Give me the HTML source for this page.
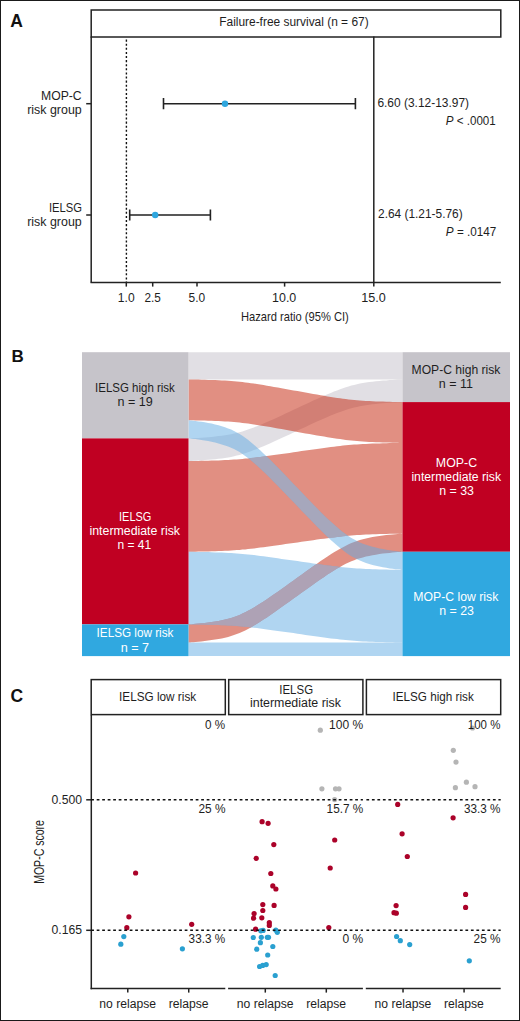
<!DOCTYPE html>
<html><head><meta charset="utf-8"><style>
html,body{margin:0;padding:0;background:#fff;}
svg{display:block;}
text{font-family:"Liberation Sans", sans-serif;}
</style></head><body>
<svg width="520" height="1021" viewBox="0 0 520 1021">
<rect width="520" height="1021" fill="#fff"/>
<text x="10.2" y="26.7" font-size="17.5" font-weight="bold" fill="#111">A</text>
<rect x="91.2" y="10.0" width="409.6" height="27.0" fill="none" stroke="#222" stroke-width="1.5"/>
<line x1="91.2" y1="36.5" x2="91.2" y2="282.6" stroke="#222" stroke-width="1.5"/>
<line x1="90.5" y1="282.6" x2="500.8" y2="282.6" stroke="#222" stroke-width="1.5"/>
<line x1="373.8" y1="36.5" x2="373.8" y2="282.6" stroke="#222" stroke-width="1.5"/>
<line x1="126.4" y1="39.6" x2="126.4" y2="282" stroke="#111" stroke-width="1.4" stroke-dasharray="2.05 2.05"/>
<line x1="126.3" y1="282.6" x2="126.3" y2="286.6" stroke="#222" stroke-width="1.5"/>
<line x1="152.7" y1="282.6" x2="152.7" y2="286.6" stroke="#222" stroke-width="1.5"/>
<line x1="197" y1="282.6" x2="197" y2="286.6" stroke="#222" stroke-width="1.5"/>
<line x1="284.6" y1="282.6" x2="284.6" y2="286.6" stroke="#222" stroke-width="1.5"/>
<line x1="373.8" y1="282.6" x2="373.8" y2="286.6" stroke="#222" stroke-width="1.5"/>
<line x1="86.2" y1="103.7" x2="91.2" y2="103.7" stroke="#222" stroke-width="1.5"/>
<line x1="86.2" y1="215.0" x2="91.2" y2="215.0" stroke="#222" stroke-width="1.5"/>
<path d="M163.5,103.7 H355.4 M163.5,98.10000000000001 V109.3 M355.4,98.10000000000001 V109.3" stroke="#222" stroke-width="1.6" fill="none"/>
<circle cx="225.0" cy="103.7" r="3.2" fill="#2ea6de"/>
<path d="M129.7,215.0 H210.4 M129.7,209.4 V220.6 M210.4,209.4 V220.6" stroke="#222" stroke-width="1.6" fill="none"/>
<circle cx="155.2" cy="215.0" r="3.2" fill="#2ea6de"/>
<text x="11.6" y="362.3" font-size="17" font-weight="bold" fill="#111">B</text>
<path d="M188.5,352.2 188.5,352.2 188.7,352.2 189.2,352.2 190.1,352.2 191.4,352.2 193.3,352.2 195.6,352.2 198.3,352.2 201.4,352.2 204.7,352.2 208.1,352.2 211.6,352.2 215.1,352.2 218.5,352.2 221.8,352.2 225.0,352.2 228.1,352.2 231.1,352.2 234.0,352.2 236.8,352.2 239.6,352.2 242.4,352.2 245.2,352.2 248.0,352.2 250.9,352.2 253.9,352.2 257.0,352.2 260.2,352.2 263.5,352.2 266.9,352.2 270.4,352.2 274.0,352.2 277.8,352.2 281.6,352.2 285.5,352.2 289.5,352.2 293.5,352.2 297.5,352.2 301.5,352.2 305.5,352.2 309.4,352.2 313.2,352.2 317.0,352.2 320.6,352.2 324.1,352.2 327.5,352.2 330.8,352.2 334.0,352.2 337.1,352.2 340.1,352.2 343.0,352.2 345.8,352.2 348.6,352.2 351.4,352.2 354.2,352.2 357.0,352.2 359.9,352.2 362.9,352.2 366.0,352.2 369.2,352.2 372.5,352.2 375.9,352.2 379.4,352.2 382.9,352.2 386.3,352.2 389.6,352.2 392.7,352.2 395.4,352.2 397.7,352.2 399.6,352.2 400.9,352.2 401.8,352.2 402.3,352.2 402.5,352.2 402.5,352.2 402.5,352.2 402.5,352.3 402.5,352.5 402.5,352.9 402.5,353.6 402.5,354.5 402.5,355.6 402.5,357.0 402.5,358.7 402.5,360.5 402.5,362.6 402.5,364.7 402.5,366.9 402.5,369.0 402.5,371.1 402.5,372.9 402.5,374.6 402.5,376.0 402.5,377.2 402.5,378.0 402.5,378.7 402.5,379.1 402.5,379.3 402.5,379.4 402.5,379.4 402.5,379.4 402.3,379.4 401.8,379.4 400.9,379.4 399.6,379.4 397.7,379.4 395.4,379.4 392.7,379.4 389.6,379.4 386.3,379.4 382.9,379.4 379.4,379.4 375.9,379.4 372.5,379.4 369.2,379.4 366.0,379.4 362.9,379.4 359.9,379.4 357.0,379.4 354.2,379.4 351.4,379.4 348.6,379.4 345.8,379.4 343.0,379.4 340.1,379.4 337.1,379.4 334.0,379.4 330.8,379.4 327.5,379.4 324.1,379.4 320.6,379.4 317.0,379.4 313.2,379.4 309.4,379.4 305.5,379.4 301.5,379.4 297.5,379.4 293.5,379.4 289.5,379.4 285.5,379.4 281.6,379.4 277.8,379.4 274.0,379.4 270.4,379.4 266.9,379.4 263.5,379.4 260.2,379.4 257.0,379.4 253.9,379.4 250.9,379.4 248.0,379.4 245.2,379.4 242.4,379.4 239.6,379.4 236.8,379.4 234.0,379.4 231.1,379.4 228.1,379.4 225.0,379.4 221.8,379.4 218.5,379.4 215.1,379.4 211.6,379.4 208.1,379.4 204.7,379.4 201.4,379.4 198.3,379.4 195.6,379.4 193.3,379.4 191.4,379.4 190.1,379.4 189.2,379.4 188.7,379.4 188.5,379.4 188.5,379.4 188.5,379.4 188.5,379.3 188.5,379.1 188.5,378.7 188.5,378.0 188.5,377.2 188.5,376.0 188.5,374.6 188.5,372.9 188.5,371.1 188.5,369.0 188.5,366.9 188.5,364.7 188.5,362.6 188.5,360.5 188.5,358.7 188.5,357.0 188.5,355.6 188.5,354.5 188.5,353.6 188.5,352.9 188.5,352.5 188.5,352.3 188.5,352.2Z" fill="rgb(195,191,201)" fill-opacity="0.5"/>
<path d="M188.5,438.4 188.5,438.4 188.7,438.4 189.2,438.4 190.1,438.3 191.4,438.3 193.3,438.2 195.6,438.0 198.3,437.9 201.4,437.7 204.7,437.4 208.1,437.2 211.6,436.9 215.1,436.5 218.5,436.1 221.8,435.7 225.0,435.2 228.1,434.7 231.1,434.2 234.0,433.6 236.8,432.9 239.6,432.2 242.4,431.4 245.2,430.5 248.0,429.6 250.9,428.6 253.9,427.4 257.0,426.2 260.2,424.9 263.5,423.5 266.9,422.1 270.4,420.5 274.0,418.9 277.8,417.2 281.6,415.4 285.5,413.6 289.5,411.7 293.5,409.8 297.5,408.0 301.5,406.1 305.5,404.2 309.4,402.4 313.2,400.6 317.0,398.9 320.6,397.3 324.1,395.7 327.5,394.3 330.8,392.9 334.0,391.6 337.1,390.4 340.1,389.2 343.0,388.2 345.8,387.3 348.6,386.4 351.4,385.6 354.2,384.9 357.0,384.2 359.9,383.6 362.9,383.1 366.0,382.6 369.2,382.1 372.5,381.7 375.9,381.3 379.4,380.9 382.9,380.6 386.3,380.4 389.6,380.1 392.7,379.9 395.4,379.8 397.7,379.6 399.6,379.5 400.9,379.5 401.8,379.4 402.3,379.4 402.5,379.4 402.5,379.4 402.5,379.4 402.5,379.5 402.5,379.7 402.5,380.0 402.5,380.6 402.5,381.3 402.5,382.3 402.5,383.4 402.5,384.8 402.5,386.4 402.5,388.1 402.5,389.8 402.5,391.7 402.5,393.4 402.5,395.1 402.5,396.7 402.5,398.1 402.5,399.3 402.5,400.2 402.5,401.0 402.5,401.5 402.5,401.8 402.5,402.0 402.5,402.1 402.5,402.1 402.5,402.1 402.3,402.1 401.8,402.1 400.9,402.2 399.6,402.2 397.7,402.3 395.4,402.4 392.7,402.6 389.6,402.8 386.3,403.0 382.9,403.3 379.4,403.6 375.9,404.0 372.5,404.3 369.2,404.8 366.0,405.2 362.9,405.7 359.9,406.3 357.0,406.9 354.2,407.5 351.4,408.3 348.6,409.1 345.8,409.9 343.0,410.9 340.1,411.9 337.1,413.0 334.0,414.3 330.8,415.6 327.5,416.9 324.1,418.4 320.6,420.0 317.0,421.6 313.2,423.3 309.4,425.1 305.5,426.9 301.5,428.8 297.5,430.6 293.5,432.5 289.5,434.4 285.5,436.2 281.6,438.1 277.8,439.8 274.0,441.5 270.4,443.2 266.9,444.7 263.5,446.2 260.2,447.6 257.0,448.9 253.9,450.1 250.9,451.2 248.0,452.3 245.2,453.2 242.4,454.1 239.6,454.9 236.8,455.6 234.0,456.3 231.1,456.9 228.1,457.4 225.0,457.9 221.8,458.4 218.5,458.8 215.1,459.2 211.6,459.5 208.1,459.8 204.7,460.1 201.4,460.4 198.3,460.6 195.6,460.7 193.3,460.8 191.4,460.9 190.1,461.0 189.2,461.0 188.7,461.1 188.5,461.1 188.5,461.1 188.5,461.0 188.5,461.0 188.5,460.8 188.5,460.4 188.5,459.9 188.5,459.2 188.5,458.2 188.5,457.0 188.5,455.7 188.5,454.1 188.5,452.4 188.5,450.6 188.5,448.8 188.5,447.0 188.5,445.3 188.5,443.8 188.5,442.4 188.5,441.2 188.5,440.3 188.5,439.5 188.5,439.0 188.5,438.7 188.5,438.5 188.5,438.4Z" fill="rgb(195,191,201)" fill-opacity="0.5"/>
<path d="M188.5,379.4 188.5,379.4 188.7,379.4 189.2,379.4 190.1,379.4 191.4,379.5 193.3,379.5 195.6,379.5 198.3,379.6 201.4,379.7 204.7,379.8 208.1,379.9 211.6,380.0 215.1,380.1 218.5,380.3 221.8,380.4 225.0,380.6 228.1,380.8 231.1,381.0 234.0,381.3 236.8,381.5 239.6,381.8 242.4,382.1 245.2,382.4 248.0,382.8 250.9,383.2 253.9,383.6 257.0,384.1 260.2,384.6 263.5,385.1 266.9,385.7 270.4,386.3 274.0,386.9 277.8,387.6 281.6,388.3 285.5,389.0 289.5,389.7 293.5,390.4 297.5,391.1 301.5,391.8 305.5,392.6 309.4,393.3 313.2,393.9 317.0,394.6 320.6,395.2 324.1,395.8 327.5,396.4 330.8,396.9 334.0,397.4 337.1,397.9 340.1,398.3 343.0,398.7 345.8,399.1 348.6,399.4 351.4,399.7 354.2,400.0 357.0,400.3 359.9,400.5 362.9,400.7 366.0,400.9 369.2,401.1 372.5,401.2 375.9,401.4 379.4,401.5 382.9,401.6 386.3,401.7 389.6,401.8 392.7,401.9 395.4,402.0 397.7,402.0 399.6,402.0 400.9,402.1 401.8,402.1 402.3,402.1 402.5,402.1 402.5,402.1 402.5,402.1 402.5,402.2 402.5,402.6 402.5,403.2 402.5,404.1 402.5,405.5 402.5,407.2 402.5,409.3 402.5,411.8 402.5,414.6 402.5,417.7 402.5,420.9 402.5,424.1 402.5,427.3 402.5,430.4 402.5,433.2 402.5,435.7 402.5,437.8 402.5,439.5 402.5,440.9 402.5,441.8 402.5,442.4 402.5,442.8 402.5,442.9 402.5,442.9 402.5,442.9 402.3,442.9 401.8,442.9 400.9,442.9 399.6,442.9 397.7,442.8 395.4,442.8 392.7,442.7 389.6,442.6 386.3,442.6 382.9,442.5 379.4,442.3 375.9,442.2 372.5,442.0 369.2,441.9 366.0,441.7 362.9,441.5 359.9,441.3 357.0,441.1 354.2,440.8 351.4,440.5 348.6,440.2 345.8,439.9 343.0,439.5 340.1,439.1 337.1,438.7 334.0,438.2 330.8,437.7 327.5,437.2 324.1,436.6 320.6,436.0 317.0,435.4 313.2,434.8 309.4,434.1 305.5,433.4 301.5,432.7 297.5,431.9 293.5,431.2 289.5,430.5 285.5,429.8 281.6,429.1 277.8,428.4 274.0,427.7 270.4,427.1 266.9,426.5 263.5,425.9 260.2,425.4 257.0,424.9 253.9,424.4 250.9,424.0 248.0,423.6 245.2,423.3 242.4,422.9 239.6,422.6 236.8,422.3 234.0,422.1 231.1,421.8 228.1,421.6 225.0,421.4 221.8,421.3 218.5,421.1 215.1,421.0 211.6,420.8 208.1,420.7 204.7,420.6 201.4,420.5 198.3,420.4 195.6,420.4 193.3,420.3 191.4,420.3 190.1,420.3 189.2,420.2 188.7,420.2 188.5,420.2 188.5,420.2 188.5,420.2 188.5,420.1 188.5,419.8 188.5,419.1 188.5,418.2 188.5,416.9 188.5,415.1 188.5,413.0 188.5,410.5 188.5,407.7 188.5,404.7 188.5,401.5 188.5,398.2 188.5,395.0 188.5,391.9 188.5,389.1 188.5,386.6 188.5,384.5 188.5,382.8 188.5,381.5 188.5,380.5 188.5,379.9 188.5,379.6 188.5,379.4Z" fill="rgb(195,31,5)" fill-opacity="0.5"/>
<path d="M188.5,461.1 188.5,461.1 188.7,461.1 189.2,461.1 190.1,461.0 191.4,461.0 193.3,461.0 195.6,461.0 198.3,460.9 201.4,460.8 204.7,460.8 208.1,460.7 211.6,460.6 215.1,460.5 218.5,460.4 221.8,460.2 225.0,460.1 228.1,459.9 231.1,459.8 234.0,459.6 236.8,459.4 239.6,459.2 242.4,458.9 245.2,458.6 248.0,458.4 250.9,458.0 253.9,457.7 257.0,457.3 260.2,456.9 263.5,456.5 266.9,456.0 270.4,455.6 274.0,455.1 277.8,454.5 281.6,454.0 285.5,453.4 289.5,452.9 293.5,452.3 297.5,451.7 301.5,451.1 305.5,450.6 309.4,450.0 313.2,449.4 317.0,448.9 320.6,448.4 324.1,447.9 327.5,447.5 330.8,447.1 334.0,446.7 337.1,446.3 340.1,445.9 343.0,445.6 345.8,445.3 348.6,445.1 351.4,444.8 354.2,444.6 357.0,444.4 359.9,444.2 362.9,444.0 366.0,443.9 369.2,443.7 372.5,443.6 375.9,443.5 379.4,443.4 382.9,443.3 386.3,443.2 389.6,443.1 392.7,443.1 395.4,443.0 397.7,443.0 399.6,443.0 400.9,442.9 401.8,442.9 402.3,442.9 402.5,442.9 402.5,442.9 402.5,443.0 402.5,443.3 402.5,444.0 402.5,445.4 402.5,447.5 402.5,450.4 402.5,454.3 402.5,459.0 402.5,464.5 402.5,470.7 402.5,477.5 402.5,484.7 402.5,491.9 402.5,499.0 402.5,505.8 402.5,512.0 402.5,517.6 402.5,522.3 402.5,526.1 402.5,529.1 402.5,531.2 402.5,532.6 402.5,533.3 402.5,533.6 402.5,533.6 402.5,533.6 402.3,533.6 401.8,533.6 400.9,533.7 399.6,533.7 397.7,533.7 395.4,533.7 392.7,533.8 389.6,533.8 386.3,533.9 382.9,534.0 379.4,534.1 375.9,534.2 372.5,534.3 369.2,534.5 366.0,534.6 362.9,534.8 359.9,534.9 357.0,535.1 354.2,535.3 351.4,535.5 348.6,535.8 345.8,536.0 343.0,536.3 340.1,536.7 337.1,537.0 334.0,537.4 330.8,537.8 327.5,538.2 324.1,538.7 320.6,539.1 317.0,539.6 313.2,540.2 309.4,540.7 305.5,541.3 301.5,541.8 297.5,542.4 293.5,543.0 289.5,543.6 285.5,544.1 281.6,544.7 277.8,545.2 274.0,545.8 270.4,546.3 266.9,546.8 263.5,547.2 260.2,547.6 257.0,548.0 253.9,548.4 250.9,548.8 248.0,549.1 245.2,549.4 242.4,549.6 239.6,549.9 236.8,550.1 234.0,550.3 231.1,550.5 228.1,550.7 225.0,550.8 221.8,551.0 218.5,551.1 215.1,551.2 211.6,551.3 208.1,551.4 204.7,551.5 201.4,551.6 198.3,551.6 195.6,551.7 193.3,551.7 191.4,551.7 190.1,551.8 189.2,551.8 188.7,551.8 188.5,551.8 188.5,551.8 188.5,551.7 188.5,551.4 188.5,550.7 188.5,549.3 188.5,547.2 188.5,544.3 188.5,540.4 188.5,535.7 188.5,530.2 188.5,524.0 188.5,517.2 188.5,510.0 188.5,502.8 188.5,495.7 188.5,488.9 188.5,482.6 188.5,477.1 188.5,472.4 188.5,468.6 188.5,465.6 188.5,463.5 188.5,462.1 188.5,461.4 188.5,461.1Z" fill="rgb(195,31,5)" fill-opacity="0.5"/>
<path d="M188.5,624.3 188.5,624.3 188.7,624.3 189.2,624.3 190.1,624.3 191.4,624.2 193.3,624.0 195.6,623.8 198.3,623.6 201.4,623.3 204.7,622.9 208.1,622.5 211.6,622.0 215.1,621.5 218.5,620.9 221.8,620.2 225.0,619.5 228.1,618.7 231.1,617.9 234.0,617.0 236.8,616.0 239.6,614.9 242.4,613.6 245.2,612.3 248.0,610.8 250.9,609.2 253.9,607.5 257.0,605.6 260.2,603.6 263.5,601.5 266.9,599.2 270.4,596.8 274.0,594.3 277.8,591.7 281.6,589.0 285.5,586.2 289.5,583.3 293.5,580.4 297.5,577.5 301.5,574.7 305.5,571.8 309.4,569.0 313.2,566.3 317.0,563.7 320.6,561.1 324.1,558.7 327.5,556.5 330.8,554.3 334.0,552.3 337.1,550.5 340.1,548.8 343.0,547.2 345.8,545.7 348.6,544.3 351.4,543.1 354.2,542.0 357.0,541.0 359.9,540.1 362.9,539.2 366.0,538.5 369.2,537.8 372.5,537.1 375.9,536.5 379.4,536.0 382.9,535.5 386.3,535.1 389.6,534.7 392.7,534.4 395.4,534.2 397.7,534.0 399.6,533.8 400.9,533.7 401.8,533.7 402.3,533.6 402.5,533.6 402.5,533.6 402.5,533.6 402.5,533.7 402.5,533.8 402.5,534.1 402.5,534.5 402.5,535.1 402.5,535.9 402.5,536.8 402.5,537.9 402.5,539.2 402.5,540.6 402.5,542.0 402.5,543.4 402.5,544.9 402.5,546.2 402.5,547.5 402.5,548.6 402.5,549.5 402.5,550.3 402.5,550.9 402.5,551.3 402.5,551.6 402.5,551.7 402.5,551.8 402.5,551.8 402.5,551.8 402.3,551.8 401.8,551.8 400.9,551.9 399.6,552.0 397.7,552.1 395.4,552.3 392.7,552.5 389.6,552.9 386.3,553.2 382.9,553.6 379.4,554.1 375.9,554.7 372.5,555.2 369.2,555.9 366.0,556.6 362.9,557.4 359.9,558.2 357.0,559.1 354.2,560.2 351.4,561.3 348.6,562.5 345.8,563.8 343.0,565.3 340.1,566.9 337.1,568.6 334.0,570.5 330.8,572.5 327.5,574.6 324.1,576.9 320.6,579.3 317.0,581.8 313.2,584.4 309.4,587.2 305.5,589.9 301.5,592.8 297.5,595.7 293.5,598.6 289.5,601.5 285.5,604.3 281.6,607.1 277.8,609.8 274.0,612.5 270.4,615.0 266.9,617.4 263.5,619.6 260.2,621.8 257.0,623.8 253.9,625.6 250.9,627.4 248.0,629.0 245.2,630.4 242.4,631.8 239.6,633.0 236.8,634.1 234.0,635.1 231.1,636.0 228.1,636.9 225.0,637.7 221.8,638.4 218.5,639.0 215.1,639.6 211.6,640.1 208.1,640.6 204.7,641.1 201.4,641.4 198.3,641.7 195.6,642.0 193.3,642.2 191.4,642.3 190.1,642.4 189.2,642.5 188.7,642.5 188.5,642.5 188.5,642.5 188.5,642.5 188.5,642.4 188.5,642.3 188.5,642.0 188.5,641.6 188.5,641.0 188.5,640.2 188.5,639.3 188.5,638.2 188.5,636.9 188.5,635.6 188.5,634.1 188.5,632.7 188.5,631.3 188.5,629.9 188.5,628.7 188.5,627.6 188.5,626.6 188.5,625.9 188.5,625.3 188.5,624.8 188.5,624.6 188.5,624.4 188.5,624.4Z" fill="rgb(195,31,5)" fill-opacity="0.5"/>
<path d="M188.5,420.2 188.5,420.2 188.7,420.3 189.2,420.3 190.1,420.4 191.4,420.5 193.3,420.7 195.6,421.0 198.3,421.4 201.4,421.8 204.7,422.3 208.1,422.9 211.6,423.6 215.1,424.4 218.5,425.3 221.8,426.2 225.0,427.2 228.1,428.4 231.1,429.6 234.0,430.9 236.8,432.4 239.6,434.0 242.4,435.8 245.2,437.7 248.0,439.8 250.9,442.2 253.9,444.7 257.0,447.4 260.2,450.3 263.5,453.4 266.9,456.7 270.4,460.1 274.0,463.8 277.8,467.6 281.6,471.5 285.5,475.6 289.5,479.7 293.5,483.9 297.5,488.1 301.5,492.3 305.5,496.4 309.4,500.5 313.2,504.4 317.0,508.2 320.6,511.9 324.1,515.4 327.5,518.7 330.8,521.7 334.0,524.6 337.1,527.3 340.1,529.9 343.0,532.2 345.8,534.3 348.6,536.2 351.4,538.0 354.2,539.6 357.0,541.1 359.9,542.4 362.9,543.7 366.0,544.8 369.2,545.8 372.5,546.7 375.9,547.6 379.4,548.4 382.9,549.1 386.3,549.7 389.6,550.2 392.7,550.7 395.4,551.0 397.7,551.3 399.6,551.5 400.9,551.6 401.8,551.7 402.3,551.8 402.5,551.8 402.5,551.8 402.5,551.8 402.5,551.8 402.5,552.0 402.5,552.3 402.5,552.7 402.5,553.3 402.5,554.0 402.5,555.0 402.5,556.1 402.5,557.3 402.5,558.7 402.5,560.1 402.5,561.6 402.5,563.0 402.5,564.4 402.5,565.6 402.5,566.7 402.5,567.7 402.5,568.4 402.5,569.0 402.5,569.4 402.5,569.7 402.5,569.9 402.5,569.9 402.5,569.9 402.5,569.9 402.3,569.9 401.8,569.9 400.9,569.8 399.6,569.6 397.7,569.4 395.4,569.2 392.7,568.8 389.6,568.4 386.3,567.8 382.9,567.2 379.4,566.5 375.9,565.7 372.5,564.9 369.2,563.9 366.0,562.9 362.9,561.8 359.9,560.6 357.0,559.2 354.2,557.8 351.4,556.2 348.6,554.4 345.8,552.4 343.0,550.3 340.1,548.0 337.1,545.5 334.0,542.8 330.8,539.9 327.5,536.8 324.1,533.5 320.6,530.0 317.0,526.4 313.2,522.6 309.4,518.6 305.5,514.6 301.5,510.4 297.5,506.3 293.5,502.0 289.5,497.9 285.5,493.7 281.6,489.7 277.8,485.7 274.0,481.9 270.4,478.3 266.9,474.8 263.5,471.5 260.2,468.4 257.0,465.5 253.9,462.8 250.9,460.3 248.0,458.0 245.2,455.9 242.4,453.9 239.6,452.1 236.8,450.5 234.0,449.1 231.1,447.7 228.1,446.5 225.0,445.4 221.8,444.4 218.5,443.4 215.1,442.6 211.6,441.8 208.1,441.1 204.7,440.5 201.4,439.9 198.3,439.5 195.6,439.1 193.3,438.9 191.4,438.7 190.1,438.5 189.2,438.4 188.7,438.4 188.5,438.4 188.5,438.4 188.5,438.4 188.5,438.3 188.5,438.2 188.5,437.9 188.5,437.5 188.5,436.9 188.5,436.1 188.5,435.2 188.5,434.1 188.5,432.8 188.5,431.5 188.5,430.0 188.5,428.6 188.5,427.2 188.5,425.8 188.5,424.6 188.5,423.4 188.5,422.5 188.5,421.7 188.5,421.1 188.5,420.7 188.5,420.5 188.5,420.3 188.5,420.2Z" fill="rgb(97,171,227)" fill-opacity="0.5"/>
<path d="M188.5,551.8 188.5,551.8 188.7,551.8 189.2,551.8 190.1,551.8 191.4,551.8 193.3,551.8 195.6,551.9 198.3,551.9 201.4,552.0 204.7,552.1 208.1,552.1 211.6,552.2 215.1,552.4 218.5,552.5 221.8,552.6 225.0,552.7 228.1,552.9 231.1,553.1 234.0,553.3 236.8,553.5 239.6,553.7 242.4,553.9 245.2,554.2 248.0,554.5 250.9,554.8 253.9,555.1 257.0,555.5 260.2,555.9 263.5,556.3 266.9,556.8 270.4,557.3 274.0,557.8 277.8,558.3 281.6,558.9 285.5,559.4 289.5,560.0 293.5,560.6 297.5,561.1 301.5,561.7 305.5,562.3 309.4,562.8 313.2,563.4 317.0,563.9 320.6,564.4 324.1,564.9 327.5,565.4 330.8,565.8 334.0,566.2 337.1,566.5 340.1,566.9 343.0,567.2 345.8,567.5 348.6,567.8 351.4,568.0 354.2,568.2 357.0,568.4 359.9,568.6 362.9,568.8 366.0,569.0 369.2,569.1 372.5,569.2 375.9,569.3 379.4,569.5 382.9,569.5 386.3,569.6 389.6,569.7 392.7,569.8 395.4,569.8 397.7,569.9 399.6,569.9 400.9,569.9 401.8,569.9 402.3,569.9 402.5,569.9 402.5,569.9 402.5,570.0 402.5,570.2 402.5,570.8 402.5,571.9 402.5,573.6 402.5,575.9 402.5,579.0 402.5,582.8 402.5,587.2 402.5,592.2 402.5,597.6 402.5,603.3 402.5,609.1 402.5,614.8 402.5,620.2 402.5,625.2 402.5,629.6 402.5,633.4 402.5,636.5 402.5,638.8 402.5,640.5 402.5,641.6 402.5,642.2 402.5,642.5 402.5,642.5 402.5,642.5 402.3,642.5 401.8,642.5 400.9,642.5 399.6,642.5 397.7,642.4 395.4,642.4 392.7,642.3 389.6,642.3 386.3,642.2 382.9,642.1 379.4,642.0 375.9,641.9 372.5,641.8 369.2,641.7 366.0,641.5 362.9,641.4 359.9,641.2 357.0,641.0 354.2,640.8 351.4,640.6 348.6,640.3 345.8,640.1 343.0,639.8 340.1,639.5 337.1,639.1 334.0,638.8 330.8,638.4 327.5,637.9 324.1,637.5 320.6,637.0 317.0,636.5 313.2,636.0 309.4,635.4 305.5,634.9 301.5,634.3 297.5,633.7 293.5,633.1 289.5,632.6 285.5,632.0 281.6,631.4 277.8,630.9 274.0,630.4 270.4,629.9 266.9,629.4 263.5,628.9 260.2,628.5 257.0,628.1 253.9,627.7 250.9,627.4 248.0,627.1 245.2,626.8 242.4,626.5 239.6,626.2 236.8,626.0 234.0,625.8 231.1,625.6 228.1,625.5 225.0,625.3 221.8,625.2 218.5,625.0 215.1,624.9 211.6,624.8 208.1,624.7 204.7,624.6 201.4,624.6 198.3,624.5 195.6,624.5 193.3,624.4 191.4,624.4 190.1,624.4 189.2,624.4 188.7,624.4 188.5,624.3 188.5,624.3 188.5,624.3 188.5,624.1 188.5,623.5 188.5,622.4 188.5,620.7 188.5,618.3 188.5,615.3 188.5,611.5 188.5,607.1 188.5,602.1 188.5,596.7 188.5,591.0 188.5,585.2 188.5,579.5 188.5,574.0 188.5,569.0 188.5,564.6 188.5,560.9 188.5,557.8 188.5,555.4 188.5,553.7 188.5,552.6 188.5,552.0 188.5,551.8Z" fill="rgb(97,171,227)" fill-opacity="0.5"/>
<path d="M188.5,642.5 188.5,642.5 188.7,642.5 189.2,642.5 190.1,642.5 191.4,642.5 193.3,642.5 195.6,642.5 198.3,642.5 201.4,642.5 204.7,642.5 208.1,642.5 211.6,642.5 215.1,642.5 218.5,642.5 221.8,642.5 225.0,642.5 228.1,642.5 231.1,642.5 234.0,642.5 236.8,642.5 239.6,642.5 242.4,642.5 245.2,642.5 248.0,642.5 250.9,642.5 253.9,642.5 257.0,642.5 260.2,642.5 263.5,642.5 266.9,642.5 270.4,642.5 274.0,642.5 277.8,642.5 281.6,642.5 285.5,642.5 289.5,642.5 293.5,642.5 297.5,642.5 301.5,642.5 305.5,642.5 309.4,642.5 313.2,642.5 317.0,642.5 320.6,642.5 324.1,642.5 327.5,642.5 330.8,642.5 334.0,642.5 337.1,642.5 340.1,642.5 343.0,642.5 345.8,642.5 348.6,642.5 351.4,642.5 354.2,642.5 357.0,642.5 359.9,642.5 362.9,642.5 366.0,642.5 369.2,642.5 372.5,642.5 375.9,642.5 379.4,642.5 382.9,642.5 386.3,642.5 389.6,642.5 392.7,642.5 395.4,642.5 397.7,642.5 399.6,642.5 400.9,642.5 401.8,642.5 402.3,642.5 402.5,642.5 402.5,642.5 402.5,642.5 402.5,642.5 402.5,642.7 402.5,642.9 402.5,643.2 402.5,643.6 402.5,644.2 402.5,644.9 402.5,645.7 402.5,646.7 402.5,647.7 402.5,648.8 402.5,649.8 402.5,650.9 402.5,651.9 402.5,652.9 402.5,653.7 402.5,654.4 402.5,655.0 402.5,655.4 402.5,655.7 402.5,655.9 402.5,656.0 402.5,656.1 402.5,656.1 402.5,656.1 402.3,656.1 401.8,656.1 400.9,656.1 399.6,656.1 397.7,656.1 395.4,656.1 392.7,656.1 389.6,656.1 386.3,656.1 382.9,656.1 379.4,656.1 375.9,656.1 372.5,656.1 369.2,656.1 366.0,656.1 362.9,656.1 359.9,656.1 357.0,656.1 354.2,656.1 351.4,656.1 348.6,656.1 345.8,656.1 343.0,656.1 340.1,656.1 337.1,656.1 334.0,656.1 330.8,656.1 327.5,656.1 324.1,656.1 320.6,656.1 317.0,656.1 313.2,656.1 309.4,656.1 305.5,656.1 301.5,656.1 297.5,656.1 293.5,656.1 289.5,656.1 285.5,656.1 281.6,656.1 277.8,656.1 274.0,656.1 270.4,656.1 266.9,656.1 263.5,656.1 260.2,656.1 257.0,656.1 253.9,656.1 250.9,656.1 248.0,656.1 245.2,656.1 242.4,656.1 239.6,656.1 236.8,656.1 234.0,656.1 231.1,656.1 228.1,656.1 225.0,656.1 221.8,656.1 218.5,656.1 215.1,656.1 211.6,656.1 208.1,656.1 204.7,656.1 201.4,656.1 198.3,656.1 195.6,656.1 193.3,656.1 191.4,656.1 190.1,656.1 189.2,656.1 188.7,656.1 188.5,656.1 188.5,656.1 188.5,656.1 188.5,656.0 188.5,655.9 188.5,655.7 188.5,655.4 188.5,655.0 188.5,654.4 188.5,653.7 188.5,652.9 188.5,651.9 188.5,650.9 188.5,649.8 188.5,648.8 188.5,647.7 188.5,646.7 188.5,645.7 188.5,644.9 188.5,644.2 188.5,643.6 188.5,643.2 188.5,642.9 188.5,642.7 188.5,642.5 188.5,642.5Z" fill="rgb(97,171,227)" fill-opacity="0.5"/>
<clipPath id="cii"><path d="M188.5,461.1 188.5,461.1 188.7,461.1 189.2,461.1 190.1,461.0 191.4,461.0 193.3,461.0 195.6,461.0 198.3,460.9 201.4,460.8 204.7,460.8 208.1,460.7 211.6,460.6 215.1,460.5 218.5,460.4 221.8,460.2 225.0,460.1 228.1,459.9 231.1,459.8 234.0,459.6 236.8,459.4 239.6,459.2 242.4,458.9 245.2,458.6 248.0,458.4 250.9,458.0 253.9,457.7 257.0,457.3 260.2,456.9 263.5,456.5 266.9,456.0 270.4,455.6 274.0,455.1 277.8,454.5 281.6,454.0 285.5,453.4 289.5,452.9 293.5,452.3 297.5,451.7 301.5,451.1 305.5,450.6 309.4,450.0 313.2,449.4 317.0,448.9 320.6,448.4 324.1,447.9 327.5,447.5 330.8,447.1 334.0,446.7 337.1,446.3 340.1,445.9 343.0,445.6 345.8,445.3 348.6,445.1 351.4,444.8 354.2,444.6 357.0,444.4 359.9,444.2 362.9,444.0 366.0,443.9 369.2,443.7 372.5,443.6 375.9,443.5 379.4,443.4 382.9,443.3 386.3,443.2 389.6,443.1 392.7,443.1 395.4,443.0 397.7,443.0 399.6,443.0 400.9,442.9 401.8,442.9 402.3,442.9 402.5,442.9 402.5,442.9 402.5,443.0 402.5,443.3 402.5,444.0 402.5,445.4 402.5,447.5 402.5,450.4 402.5,454.3 402.5,459.0 402.5,464.5 402.5,470.7 402.5,477.5 402.5,484.7 402.5,491.9 402.5,499.0 402.5,505.8 402.5,512.0 402.5,517.6 402.5,522.3 402.5,526.1 402.5,529.1 402.5,531.2 402.5,532.6 402.5,533.3 402.5,533.6 402.5,533.6 402.5,533.6 402.3,533.6 401.8,533.6 400.9,533.7 399.6,533.7 397.7,533.7 395.4,533.7 392.7,533.8 389.6,533.8 386.3,533.9 382.9,534.0 379.4,534.1 375.9,534.2 372.5,534.3 369.2,534.5 366.0,534.6 362.9,534.8 359.9,534.9 357.0,535.1 354.2,535.3 351.4,535.5 348.6,535.8 345.8,536.0 343.0,536.3 340.1,536.7 337.1,537.0 334.0,537.4 330.8,537.8 327.5,538.2 324.1,538.7 320.6,539.1 317.0,539.6 313.2,540.2 309.4,540.7 305.5,541.3 301.5,541.8 297.5,542.4 293.5,543.0 289.5,543.6 285.5,544.1 281.6,544.7 277.8,545.2 274.0,545.8 270.4,546.3 266.9,546.8 263.5,547.2 260.2,547.6 257.0,548.0 253.9,548.4 250.9,548.8 248.0,549.1 245.2,549.4 242.4,549.6 239.6,549.9 236.8,550.1 234.0,550.3 231.1,550.5 228.1,550.7 225.0,550.8 221.8,551.0 218.5,551.1 215.1,551.2 211.6,551.3 208.1,551.4 204.7,551.5 201.4,551.6 198.3,551.6 195.6,551.7 193.3,551.7 191.4,551.7 190.1,551.8 189.2,551.8 188.7,551.8 188.5,551.8 188.5,551.8 188.5,551.7 188.5,551.4 188.5,550.7 188.5,549.3 188.5,547.2 188.5,544.3 188.5,540.4 188.5,535.7 188.5,530.2 188.5,524.0 188.5,517.2 188.5,510.0 188.5,502.8 188.5,495.7 188.5,488.9 188.5,482.6 188.5,477.1 188.5,472.4 188.5,468.6 188.5,465.6 188.5,463.5 188.5,462.1 188.5,461.4 188.5,461.1Z"/></clipPath>
<clipPath id="cli"><path d="M188.5,624.3 188.5,624.3 188.7,624.3 189.2,624.3 190.1,624.3 191.4,624.2 193.3,624.0 195.6,623.8 198.3,623.6 201.4,623.3 204.7,622.9 208.1,622.5 211.6,622.0 215.1,621.5 218.5,620.9 221.8,620.2 225.0,619.5 228.1,618.7 231.1,617.9 234.0,617.0 236.8,616.0 239.6,614.9 242.4,613.6 245.2,612.3 248.0,610.8 250.9,609.2 253.9,607.5 257.0,605.6 260.2,603.6 263.5,601.5 266.9,599.2 270.4,596.8 274.0,594.3 277.8,591.7 281.6,589.0 285.5,586.2 289.5,583.3 293.5,580.4 297.5,577.5 301.5,574.7 305.5,571.8 309.4,569.0 313.2,566.3 317.0,563.7 320.6,561.1 324.1,558.7 327.5,556.5 330.8,554.3 334.0,552.3 337.1,550.5 340.1,548.8 343.0,547.2 345.8,545.7 348.6,544.3 351.4,543.1 354.2,542.0 357.0,541.0 359.9,540.1 362.9,539.2 366.0,538.5 369.2,537.8 372.5,537.1 375.9,536.5 379.4,536.0 382.9,535.5 386.3,535.1 389.6,534.7 392.7,534.4 395.4,534.2 397.7,534.0 399.6,533.8 400.9,533.7 401.8,533.7 402.3,533.6 402.5,533.6 402.5,533.6 402.5,533.6 402.5,533.7 402.5,533.8 402.5,534.1 402.5,534.5 402.5,535.1 402.5,535.9 402.5,536.8 402.5,537.9 402.5,539.2 402.5,540.6 402.5,542.0 402.5,543.4 402.5,544.9 402.5,546.2 402.5,547.5 402.5,548.6 402.5,549.5 402.5,550.3 402.5,550.9 402.5,551.3 402.5,551.6 402.5,551.7 402.5,551.8 402.5,551.8 402.5,551.8 402.3,551.8 401.8,551.8 400.9,551.9 399.6,552.0 397.7,552.1 395.4,552.3 392.7,552.5 389.6,552.9 386.3,553.2 382.9,553.6 379.4,554.1 375.9,554.7 372.5,555.2 369.2,555.9 366.0,556.6 362.9,557.4 359.9,558.2 357.0,559.1 354.2,560.2 351.4,561.3 348.6,562.5 345.8,563.8 343.0,565.3 340.1,566.9 337.1,568.6 334.0,570.5 330.8,572.5 327.5,574.6 324.1,576.9 320.6,579.3 317.0,581.8 313.2,584.4 309.4,587.2 305.5,589.9 301.5,592.8 297.5,595.7 293.5,598.6 289.5,601.5 285.5,604.3 281.6,607.1 277.8,609.8 274.0,612.5 270.4,615.0 266.9,617.4 263.5,619.6 260.2,621.8 257.0,623.8 253.9,625.6 250.9,627.4 248.0,629.0 245.2,630.4 242.4,631.8 239.6,633.0 236.8,634.1 234.0,635.1 231.1,636.0 228.1,636.9 225.0,637.7 221.8,638.4 218.5,639.0 215.1,639.6 211.6,640.1 208.1,640.6 204.7,641.1 201.4,641.4 198.3,641.7 195.6,642.0 193.3,642.2 191.4,642.3 190.1,642.4 189.2,642.5 188.7,642.5 188.5,642.5 188.5,642.5 188.5,642.5 188.5,642.4 188.5,642.3 188.5,642.0 188.5,641.6 188.5,641.0 188.5,640.2 188.5,639.3 188.5,638.2 188.5,636.9 188.5,635.6 188.5,634.1 188.5,632.7 188.5,631.3 188.5,629.9 188.5,628.7 188.5,627.6 188.5,626.6 188.5,625.9 188.5,625.3 188.5,624.8 188.5,624.6 188.5,624.4 188.5,624.4Z"/></clipPath>
<path d="M188.5,420.2 188.5,420.2 188.7,420.3 189.2,420.3 190.1,420.4 191.4,420.5 193.3,420.7 195.6,421.0 198.3,421.4 201.4,421.8 204.7,422.3 208.1,422.9 211.6,423.6 215.1,424.4 218.5,425.3 221.8,426.2 225.0,427.2 228.1,428.4 231.1,429.6 234.0,430.9 236.8,432.4 239.6,434.0 242.4,435.8 245.2,437.7 248.0,439.8 250.9,442.2 253.9,444.7 257.0,447.4 260.2,450.3 263.5,453.4 266.9,456.7 270.4,460.1 274.0,463.8 277.8,467.6 281.6,471.5 285.5,475.6 289.5,479.7 293.5,483.9 297.5,488.1 301.5,492.3 305.5,496.4 309.4,500.5 313.2,504.4 317.0,508.2 320.6,511.9 324.1,515.4 327.5,518.7 330.8,521.7 334.0,524.6 337.1,527.3 340.1,529.9 343.0,532.2 345.8,534.3 348.6,536.2 351.4,538.0 354.2,539.6 357.0,541.1 359.9,542.4 362.9,543.7 366.0,544.8 369.2,545.8 372.5,546.7 375.9,547.6 379.4,548.4 382.9,549.1 386.3,549.7 389.6,550.2 392.7,550.7 395.4,551.0 397.7,551.3 399.6,551.5 400.9,551.6 401.8,551.7 402.3,551.8 402.5,551.8 402.5,551.8 402.5,551.8 402.5,551.8 402.5,552.0 402.5,552.3 402.5,552.7 402.5,553.3 402.5,554.0 402.5,555.0 402.5,556.1 402.5,557.3 402.5,558.7 402.5,560.1 402.5,561.6 402.5,563.0 402.5,564.4 402.5,565.6 402.5,566.7 402.5,567.7 402.5,568.4 402.5,569.0 402.5,569.4 402.5,569.7 402.5,569.9 402.5,569.9 402.5,569.9 402.5,569.9 402.3,569.9 401.8,569.9 400.9,569.8 399.6,569.6 397.7,569.4 395.4,569.2 392.7,568.8 389.6,568.4 386.3,567.8 382.9,567.2 379.4,566.5 375.9,565.7 372.5,564.9 369.2,563.9 366.0,562.9 362.9,561.8 359.9,560.6 357.0,559.2 354.2,557.8 351.4,556.2 348.6,554.4 345.8,552.4 343.0,550.3 340.1,548.0 337.1,545.5 334.0,542.8 330.8,539.9 327.5,536.8 324.1,533.5 320.6,530.0 317.0,526.4 313.2,522.6 309.4,518.6 305.5,514.6 301.5,510.4 297.5,506.3 293.5,502.0 289.5,497.9 285.5,493.7 281.6,489.7 277.8,485.7 274.0,481.9 270.4,478.3 266.9,474.8 263.5,471.5 260.2,468.4 257.0,465.5 253.9,462.8 250.9,460.3 248.0,458.0 245.2,455.9 242.4,453.9 239.6,452.1 236.8,450.5 234.0,449.1 231.1,447.7 228.1,446.5 225.0,445.4 221.8,444.4 218.5,443.4 215.1,442.6 211.6,441.8 208.1,441.1 204.7,440.5 201.4,439.9 198.3,439.5 195.6,439.1 193.3,438.9 191.4,438.7 190.1,438.5 189.2,438.4 188.7,438.4 188.5,438.4 188.5,438.4 188.5,438.4 188.5,438.3 188.5,438.2 188.5,437.9 188.5,437.5 188.5,436.9 188.5,436.1 188.5,435.2 188.5,434.1 188.5,432.8 188.5,431.5 188.5,430.0 188.5,428.6 188.5,427.2 188.5,425.8 188.5,424.6 188.5,423.4 188.5,422.5 188.5,421.7 188.5,421.1 188.5,420.7 188.5,420.5 188.5,420.3 188.5,420.2Z" fill="rgb(166,167,188)" clip-path="url(#cii)"/>
<path d="M188.5,551.8 188.5,551.8 188.7,551.8 189.2,551.8 190.1,551.8 191.4,551.8 193.3,551.8 195.6,551.9 198.3,551.9 201.4,552.0 204.7,552.1 208.1,552.1 211.6,552.2 215.1,552.4 218.5,552.5 221.8,552.6 225.0,552.7 228.1,552.9 231.1,553.1 234.0,553.3 236.8,553.5 239.6,553.7 242.4,553.9 245.2,554.2 248.0,554.5 250.9,554.8 253.9,555.1 257.0,555.5 260.2,555.9 263.5,556.3 266.9,556.8 270.4,557.3 274.0,557.8 277.8,558.3 281.6,558.9 285.5,559.4 289.5,560.0 293.5,560.6 297.5,561.1 301.5,561.7 305.5,562.3 309.4,562.8 313.2,563.4 317.0,563.9 320.6,564.4 324.1,564.9 327.5,565.4 330.8,565.8 334.0,566.2 337.1,566.5 340.1,566.9 343.0,567.2 345.8,567.5 348.6,567.8 351.4,568.0 354.2,568.2 357.0,568.4 359.9,568.6 362.9,568.8 366.0,569.0 369.2,569.1 372.5,569.2 375.9,569.3 379.4,569.5 382.9,569.5 386.3,569.6 389.6,569.7 392.7,569.8 395.4,569.8 397.7,569.9 399.6,569.9 400.9,569.9 401.8,569.9 402.3,569.9 402.5,569.9 402.5,569.9 402.5,570.0 402.5,570.2 402.5,570.8 402.5,571.9 402.5,573.6 402.5,575.9 402.5,579.0 402.5,582.8 402.5,587.2 402.5,592.2 402.5,597.6 402.5,603.3 402.5,609.1 402.5,614.8 402.5,620.2 402.5,625.2 402.5,629.6 402.5,633.4 402.5,636.5 402.5,638.8 402.5,640.5 402.5,641.6 402.5,642.2 402.5,642.5 402.5,642.5 402.5,642.5 402.3,642.5 401.8,642.5 400.9,642.5 399.6,642.5 397.7,642.4 395.4,642.4 392.7,642.3 389.6,642.3 386.3,642.2 382.9,642.1 379.4,642.0 375.9,641.9 372.5,641.8 369.2,641.7 366.0,641.5 362.9,641.4 359.9,641.2 357.0,641.0 354.2,640.8 351.4,640.6 348.6,640.3 345.8,640.1 343.0,639.8 340.1,639.5 337.1,639.1 334.0,638.8 330.8,638.4 327.5,637.9 324.1,637.5 320.6,637.0 317.0,636.5 313.2,636.0 309.4,635.4 305.5,634.9 301.5,634.3 297.5,633.7 293.5,633.1 289.5,632.6 285.5,632.0 281.6,631.4 277.8,630.9 274.0,630.4 270.4,629.9 266.9,629.4 263.5,628.9 260.2,628.5 257.0,628.1 253.9,627.7 250.9,627.4 248.0,627.1 245.2,626.8 242.4,626.5 239.6,626.2 236.8,626.0 234.0,625.8 231.1,625.6 228.1,625.5 225.0,625.3 221.8,625.2 218.5,625.0 215.1,624.9 211.6,624.8 208.1,624.7 204.7,624.6 201.4,624.6 198.3,624.5 195.6,624.5 193.3,624.4 191.4,624.4 190.1,624.4 189.2,624.4 188.7,624.4 188.5,624.3 188.5,624.3 188.5,624.3 188.5,624.1 188.5,623.5 188.5,622.4 188.5,620.7 188.5,618.3 188.5,615.3 188.5,611.5 188.5,607.1 188.5,602.1 188.5,596.7 188.5,591.0 188.5,585.2 188.5,579.5 188.5,574.0 188.5,569.0 188.5,564.6 188.5,560.9 188.5,557.8 188.5,555.4 188.5,553.7 188.5,552.6 188.5,552.0 188.5,551.8Z" fill="rgb(174,162,181)" clip-path="url(#cli)"/>
<rect x="82.0" y="352.20" width="106.5" height="86.18" fill="#c6c4ca"/>
<rect x="82.0" y="438.38" width="106.5" height="185.97" fill="#c00022"/>
<rect x="82.0" y="624.35" width="106.5" height="31.75" fill="#30a8e0"/>
<rect x="402.5" y="352.20" width="107.5" height="49.89" fill="#c6c4ca"/>
<rect x="402.5" y="402.09" width="107.5" height="149.68" fill="#c00022"/>
<rect x="402.5" y="551.78" width="107.5" height="104.32" fill="#30a8e0"/>
<text x="10.6" y="702.3" font-size="17.5" font-weight="bold" fill="#111">C</text>
<rect x="91.2" y="679.6" width="134.10" height="35.0" fill="none" stroke="#222" stroke-width="1.5"/>
<line x1="90.60000000000001" y1="988.5" x2="225.3" y2="988.5" stroke="#222" stroke-width="1.5"/>
<line x1="127.77" y1="988.5" x2="127.77" y2="992.6" stroke="#222" stroke-width="1.5"/>
<line x1="188.73" y1="988.5" x2="188.73" y2="992.6" stroke="#222" stroke-width="1.5"/>
<rect x="228.7" y="679.6" width="134.20" height="35.0" fill="none" stroke="#222" stroke-width="1.5"/>
<line x1="228.1" y1="988.5" x2="362.9" y2="988.5" stroke="#222" stroke-width="1.5"/>
<line x1="265.30" y1="988.5" x2="265.30" y2="992.6" stroke="#222" stroke-width="1.5"/>
<line x1="326.30" y1="988.5" x2="326.30" y2="992.6" stroke="#222" stroke-width="1.5"/>
<rect x="366.4" y="679.6" width="134.30" height="35.0" fill="none" stroke="#222" stroke-width="1.5"/>
<line x1="365.79999999999995" y1="988.5" x2="500.7" y2="988.5" stroke="#222" stroke-width="1.5"/>
<line x1="403.02" y1="988.5" x2="403.02" y2="992.6" stroke="#222" stroke-width="1.5"/>
<line x1="464.08" y1="988.5" x2="464.08" y2="992.6" stroke="#222" stroke-width="1.5"/>
<line x1="91.3" y1="715" x2="91.3" y2="989.2" stroke="#222" stroke-width="1.5"/>
<line x1="86.2" y1="799.8" x2="91.3" y2="799.8" stroke="#222" stroke-width="1.5"/>
<line x1="86.2" y1="930.3" x2="91.3" y2="930.3" stroke="#222" stroke-width="1.5"/>
<circle cx="320.3" cy="730.2" r="2.6" fill="#b5b5b5"/>
<circle cx="321.9" cy="788.8" r="2.6" fill="#b5b5b5"/>
<circle cx="335.5" cy="788.8" r="2.6" fill="#b5b5b5"/>
<circle cx="339.0" cy="788.8" r="2.6" fill="#b5b5b5"/>
<circle cx="334.6" cy="799.6" r="2.6" fill="#b5b5b5"/>
<circle cx="453.3" cy="750.3" r="2.6" fill="#b5b5b5"/>
<circle cx="456.0" cy="762.1" r="2.6" fill="#b5b5b5"/>
<circle cx="466.4" cy="782.2" r="2.6" fill="#b5b5b5"/>
<circle cx="475.0" cy="786.7" r="2.6" fill="#b5b5b5"/>
<circle cx="455.4" cy="787.7" r="2.6" fill="#b5b5b5"/>
<circle cx="472.5" cy="728.0" r="2.6" fill="#b5b5b5"/>
<circle cx="135.6" cy="873.0" r="2.6" fill="#ab0229"/>
<circle cx="128.9" cy="916.8" r="2.6" fill="#ab0229"/>
<circle cx="126.8" cy="927.7" r="2.6" fill="#ab0229"/>
<circle cx="191.7" cy="924.3" r="2.6" fill="#ab0229"/>
<circle cx="262.1" cy="821.7" r="2.6" fill="#ab0229"/>
<circle cx="268.1" cy="823.3" r="2.6" fill="#ab0229"/>
<circle cx="273.8" cy="844.6" r="2.6" fill="#ab0229"/>
<circle cx="256.2" cy="858.3" r="2.6" fill="#ab0229"/>
<circle cx="270.8" cy="873.5" r="2.6" fill="#ab0229"/>
<circle cx="272.8" cy="885.9" r="2.6" fill="#ab0229"/>
<circle cx="275.9" cy="889.0" r="2.6" fill="#ab0229"/>
<circle cx="262.8" cy="904.6" r="2.6" fill="#ab0229"/>
<circle cx="274.1" cy="905.4" r="2.6" fill="#ab0229"/>
<circle cx="262.8" cy="910.5" r="2.6" fill="#ab0229"/>
<circle cx="254.1" cy="913.5" r="2.6" fill="#ab0229"/>
<circle cx="253.6" cy="918.2" r="2.6" fill="#ab0229"/>
<circle cx="261.8" cy="917.8" r="2.6" fill="#ab0229"/>
<circle cx="269.3" cy="922.7" r="2.6" fill="#ab0229"/>
<circle cx="269.3" cy="925.4" r="2.6" fill="#ab0229"/>
<circle cx="255.6" cy="929.2" r="2.6" fill="#ab0229"/>
<circle cx="334.7" cy="840.0" r="2.6" fill="#ab0229"/>
<circle cx="330.2" cy="868.0" r="2.6" fill="#ab0229"/>
<circle cx="328.8" cy="927.6" r="2.6" fill="#ab0229"/>
<circle cx="397.7" cy="804.4" r="2.6" fill="#ab0229"/>
<circle cx="453.1" cy="817.8" r="2.6" fill="#ab0229"/>
<circle cx="402.1" cy="833.8" r="2.6" fill="#ab0229"/>
<circle cx="407.3" cy="856.5" r="2.6" fill="#ab0229"/>
<circle cx="465.6" cy="894.4" r="2.6" fill="#ab0229"/>
<circle cx="396.1" cy="905.6" r="2.6" fill="#ab0229"/>
<circle cx="394.0" cy="912.7" r="2.6" fill="#ab0229"/>
<circle cx="396.3" cy="913.2" r="2.6" fill="#ab0229"/>
<circle cx="465.6" cy="907.4" r="2.6" fill="#ab0229"/>
<circle cx="123.8" cy="936.6" r="2.6" fill="#2aa0d0"/>
<circle cx="120.8" cy="944.2" r="2.6" fill="#2aa0d0"/>
<circle cx="182.4" cy="948.8" r="2.6" fill="#2aa0d0"/>
<circle cx="260.8" cy="930.8" r="2.6" fill="#2aa0d0"/>
<circle cx="263.1" cy="930.4" r="2.6" fill="#2aa0d0"/>
<circle cx="275.8" cy="930.0" r="2.6" fill="#2aa0d0"/>
<circle cx="277.3" cy="932.3" r="2.6" fill="#2aa0d0"/>
<circle cx="253.3" cy="937.5" r="2.6" fill="#2aa0d0"/>
<circle cx="261.3" cy="937.3" r="2.6" fill="#2aa0d0"/>
<circle cx="267.3" cy="937.3" r="2.6" fill="#2aa0d0"/>
<circle cx="268.5" cy="937.3" r="2.6" fill="#2aa0d0"/>
<circle cx="260.4" cy="942.7" r="2.6" fill="#2aa0d0"/>
<circle cx="272.8" cy="946.5" r="2.6" fill="#2aa0d0"/>
<circle cx="256.7" cy="949.2" r="2.6" fill="#2aa0d0"/>
<circle cx="267.7" cy="955.0" r="2.6" fill="#2aa0d0"/>
<circle cx="259.6" cy="966.5" r="2.6" fill="#2aa0d0"/>
<circle cx="262.7" cy="965.4" r="2.6" fill="#2aa0d0"/>
<circle cx="266.2" cy="964.6" r="2.6" fill="#2aa0d0"/>
<circle cx="275.2" cy="975.5" r="2.6" fill="#2aa0d0"/>
<circle cx="396.6" cy="936.5" r="2.6" fill="#2aa0d0"/>
<circle cx="400.3" cy="940.7" r="2.6" fill="#2aa0d0"/>
<circle cx="409.7" cy="944.6" r="2.6" fill="#2aa0d0"/>
<circle cx="469.3" cy="960.8" r="2.6" fill="#2aa0d0"/>
<line x1="91.2" y1="799.8" x2="225.3" y2="799.8" stroke="#111" stroke-width="1.5" stroke-dasharray="2.75 2.75"/>
<line x1="91.2" y1="930.3" x2="225.3" y2="930.3" stroke="#111" stroke-width="1.5" stroke-dasharray="2.75 2.75"/>
<line x1="228.7" y1="799.8" x2="362.9" y2="799.8" stroke="#111" stroke-width="1.5" stroke-dasharray="2.75 2.75"/>
<line x1="228.7" y1="930.3" x2="362.9" y2="930.3" stroke="#111" stroke-width="1.5" stroke-dasharray="2.75 2.75"/>
<line x1="366.4" y1="799.8" x2="500.7" y2="799.8" stroke="#111" stroke-width="1.5" stroke-dasharray="2.75 2.75"/>
<line x1="366.4" y1="930.3" x2="500.7" y2="930.3" stroke="#111" stroke-width="1.5" stroke-dasharray="2.75 2.75"/>
<text x="219.23" y="26.45" font-size="12.3" fill="#1e1e1e" textLength="149.39" lengthAdjust="spacingAndGlyphs">Failure-free survival (n = 67)</text>
<text x="41.01" y="99.9" font-size="12.3" fill="#1e1e1e" textLength="40.69" lengthAdjust="spacingAndGlyphs">MOP-C</text>
<text x="27.19" y="114.2" font-size="12.3" fill="#1e1e1e" textLength="54.52" lengthAdjust="spacingAndGlyphs">risk group</text>
<text x="49.00" y="211.6" font-size="12.3" fill="#1e1e1e" textLength="33.06" lengthAdjust="spacingAndGlyphs">IELSG</text>
<text x="27.19" y="225.8" font-size="12.3" fill="#1e1e1e" textLength="54.52" lengthAdjust="spacingAndGlyphs">risk group</text>
<text x="377.42" y="107.1" font-size="12.3" fill="#1e1e1e" textLength="91.62" lengthAdjust="spacingAndGlyphs">6.60 (3.12-13.97)</text>
<text x="445.82" y="125" font-size="12.3" fill="#1e1e1e" textLength="49.95" lengthAdjust="spacingAndGlyphs"><tspan font-style="italic">P</tspan> &lt; .0001</text>
<text x="378.02" y="218.3" font-size="12.3" fill="#1e1e1e" textLength="84.68" lengthAdjust="spacingAndGlyphs">2.64 (1.21-5.76)</text>
<text x="445.82" y="236.3" font-size="12.3" fill="#1e1e1e" textLength="50.45" lengthAdjust="spacingAndGlyphs"><tspan font-style="italic">P</tspan> = .0147</text>
<text x="117.89" y="302" font-size="12.0" fill="#1e1e1e" textLength="16.79" lengthAdjust="spacingAndGlyphs">1.0</text>
<text x="144.41" y="302" font-size="12.0" fill="#1e1e1e" textLength="16.36" lengthAdjust="spacingAndGlyphs">2.5</text>
<text x="188.50" y="302" font-size="12.0" fill="#1e1e1e" textLength="16.58" lengthAdjust="spacingAndGlyphs">5.0</text>
<text x="272.07" y="302" font-size="12.0" fill="#1e1e1e" textLength="24.21" lengthAdjust="spacingAndGlyphs">10.0</text>
<text x="361.36" y="302" font-size="12.0" fill="#1e1e1e" textLength="24.52" lengthAdjust="spacingAndGlyphs">15.0</text>
<text x="240.95" y="321.2" font-size="12.9" fill="#1e1e1e" textLength="107.88" lengthAdjust="spacingAndGlyphs">Hazard ratio (95% CI)</text>
<text x="95.07" y="392.2" font-size="12.3" fill="#1e1e1e" textLength="79.78" lengthAdjust="spacingAndGlyphs">IELSG high risk</text>
<text x="117.48" y="405.7" font-size="12.3" fill="#1e1e1e" textLength="35.27" lengthAdjust="spacingAndGlyphs">n = 19</text>
<text x="119.02" y="520.8" font-size="12.3" fill="#ffffff" textLength="32.31" lengthAdjust="spacingAndGlyphs">IELSG</text>
<text x="89.50" y="534.9" font-size="12.3" fill="#ffffff" textLength="90.54" lengthAdjust="spacingAndGlyphs">intermediate risk</text>
<text x="117.52" y="548.8" font-size="12.3" fill="#ffffff" textLength="33.60" lengthAdjust="spacingAndGlyphs">n = 41</text>
<text x="96.55" y="637" font-size="12.3" fill="#ffffff" textLength="76.90" lengthAdjust="spacingAndGlyphs">IELSG low risk</text>
<text x="120.68" y="652.2" font-size="12.3" fill="#ffffff" textLength="28.44" lengthAdjust="spacingAndGlyphs">n = 7</text>
<text x="411.62" y="373.7" font-size="12.3" fill="#1e1e1e" textLength="88.80" lengthAdjust="spacingAndGlyphs">MOP-C high risk</text>
<text x="438.89" y="388.1" font-size="12.3" fill="#1e1e1e" textLength="34.15" lengthAdjust="spacingAndGlyphs">n = 11</text>
<text x="435.89" y="466.7" font-size="12.3" fill="#ffffff" textLength="41.20" lengthAdjust="spacingAndGlyphs">MOP-C</text>
<text x="411.41" y="480.8" font-size="12.3" fill="#ffffff" textLength="89.63" lengthAdjust="spacingAndGlyphs">intermediate risk</text>
<text x="439.20" y="495.3" font-size="12.3" fill="#ffffff" textLength="34.75" lengthAdjust="spacingAndGlyphs">n = 33</text>
<text x="413.30" y="601.2" font-size="12.3" fill="#ffffff" textLength="85.01" lengthAdjust="spacingAndGlyphs">MOP-C low risk</text>
<text x="439.20" y="614.8" font-size="12.3" fill="#ffffff" textLength="34.75" lengthAdjust="spacingAndGlyphs">n = 23</text>
<text x="99.31" y="1008.3" font-size="12.3" fill="#1e1e1e" textLength="56.72" lengthAdjust="spacingAndGlyphs">no relapse</text>
<text x="168.71" y="1008.3" font-size="12.3" fill="#1e1e1e" textLength="39.93" lengthAdjust="spacingAndGlyphs">relapse</text>
<text x="236.81" y="1008.3" font-size="12.3" fill="#1e1e1e" textLength="56.72" lengthAdjust="spacingAndGlyphs">no relapse</text>
<text x="306.21" y="1008.3" font-size="12.3" fill="#1e1e1e" textLength="39.93" lengthAdjust="spacingAndGlyphs">relapse</text>
<text x="374.51" y="1008.3" font-size="12.3" fill="#1e1e1e" textLength="56.72" lengthAdjust="spacingAndGlyphs">no relapse</text>
<text x="443.91" y="1008.3" font-size="12.3" fill="#1e1e1e" textLength="39.93" lengthAdjust="spacingAndGlyphs">relapse</text>
<text x="119.05" y="700.5" font-size="12.3" fill="#1e1e1e" textLength="77.10" lengthAdjust="spacingAndGlyphs">IELSG low risk</text>
<text x="279.27" y="694.2" font-size="12.3" fill="#1e1e1e" textLength="33.80" lengthAdjust="spacingAndGlyphs">IELSG</text>
<text x="249.99" y="707.2" font-size="12.3" fill="#1e1e1e" textLength="91.04" lengthAdjust="spacingAndGlyphs">intermediate risk</text>
<text x="392.45" y="700.7" font-size="12.3" fill="#1e1e1e" textLength="81.30" lengthAdjust="spacingAndGlyphs">IELSG high risk</text>
<text x="51.51" y="803.5" font-size="12.3" fill="#1e1e1e" textLength="30.47" lengthAdjust="spacingAndGlyphs">0.500</text>
<text x="51.51" y="933.8" font-size="12.3" fill="#1e1e1e" textLength="30.47" lengthAdjust="spacingAndGlyphs">0.165</text>
<text x="204.91" y="728.6" font-size="12.0" fill="#1e1e1e" textLength="20.15" lengthAdjust="spacingAndGlyphs">0 %</text>
<text x="198.41" y="813.2" font-size="12.0" fill="#1e1e1e" textLength="27.04" lengthAdjust="spacingAndGlyphs">25 %</text>
<text x="188.61" y="943.4" font-size="12.0" fill="#1e1e1e" textLength="36.54" lengthAdjust="spacingAndGlyphs">33.3 %</text>
<text x="329.10" y="728.6" font-size="12.0" fill="#1e1e1e" textLength="34.03" lengthAdjust="spacingAndGlyphs">100 %</text>
<text x="326.62" y="813.1" font-size="12.0" fill="#1e1e1e" textLength="36.63" lengthAdjust="spacingAndGlyphs">15.7 %</text>
<text x="342.60" y="943.1" font-size="12.0" fill="#1e1e1e" textLength="20.68" lengthAdjust="spacingAndGlyphs">0 %</text>
<text x="467.84" y="728.5" font-size="12.0" fill="#1e1e1e" textLength="32.57" lengthAdjust="spacingAndGlyphs">100 %</text>
<text x="463.91" y="813.1" font-size="12.0" fill="#1e1e1e" textLength="36.54" lengthAdjust="spacingAndGlyphs">33.3 %</text>
<text x="473.61" y="943.1" font-size="12.0" fill="#1e1e1e" textLength="26.83" lengthAdjust="spacingAndGlyphs">25 %</text>
<text transform="translate(43.75,883.87) rotate(-90)" font-size="14.5" fill="#1e1e1e" textLength="63.82" lengthAdjust="spacingAndGlyphs">MOP-C score</text>
<rect x="0.5" y="0.5" width="519" height="1020" fill="none" stroke="#1a1a1a" stroke-width="1"/>
</svg>
</body></html>
